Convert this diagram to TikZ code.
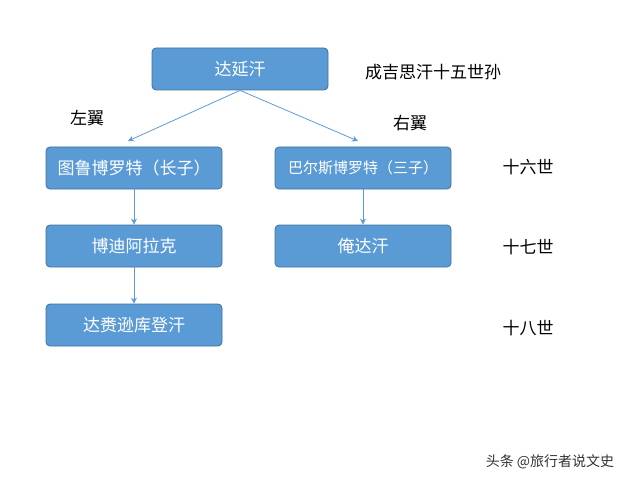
\documentclass[tikz,border=0pt]{standalone}
\usepackage{fontspec}
\setmainfont{Noto Sans CJK SC}
\usetikzlibrary{arrows.meta}
\definecolor{boxfill}{HTML}{5B9BD5}
\definecolor{boxline}{HTML}{41719C}
\tikzset{
  box/.style={draw=boxline, fill=boxfill, rounded corners=4pt, minimum width=176pt, minimum height=42pt, text=white, font=\fontsize{17}{20}\selectfont, line width=0.8pt},
  lab/.style={font=\fontsize{17}{20}\selectfont, text=black},
  arr/.style={draw=boxfill, line width=0.8pt, -{Stealth[length=6pt,width=6pt]}}
}
\begin{document}
\begin{tikzpicture}[x=1pt,y=-1pt]
\useasboundingbox (0,0) rectangle (640,484);
\node[box] (a) at (240,69) {达延汗};
\node[box] (b) at (134,168) {图鲁博罗特（长子）};
\node[box,font=\fontsize{15}{18}\selectfont] (c) at (363,168) {巴尔斯博罗特（三子）};
\node[box] (d) at (134,246) {博迪阿拉克};
\node[box] (e) at (363,246) {俺达汗};
\node[box] (f) at (134,325) {达赉逊库登汗};
\coordinate (l1) at (128,141);
\coordinate (r1) at (358,141);
\draw[arr] (a.south) -- (l1);
\draw[arr] (a.south) -- (r1);
\draw[arr] (b.south) -- (d.north);
\draw[arr] (c.south) -- (e.north);
\draw[arr] (d.south) -- (f.north);
\node[lab] (g) at (433,72) {成吉思汗十五世孙};
\node[lab] (h) at (87,118) {左翼};
\node[lab] (i) at (410,123) {右翼};
\node[lab] (j) at (528,167) {十六世};
\node[lab] (k) at (528,247) {十七世};
\node[lab] (m) at (528,328) {十八世};
\node[font=\fontsize{14}{16}\selectfont, text=black!80] (w) at (550,462) {头条 @旅行者说文史};
\end{tikzpicture}
\end{document}
